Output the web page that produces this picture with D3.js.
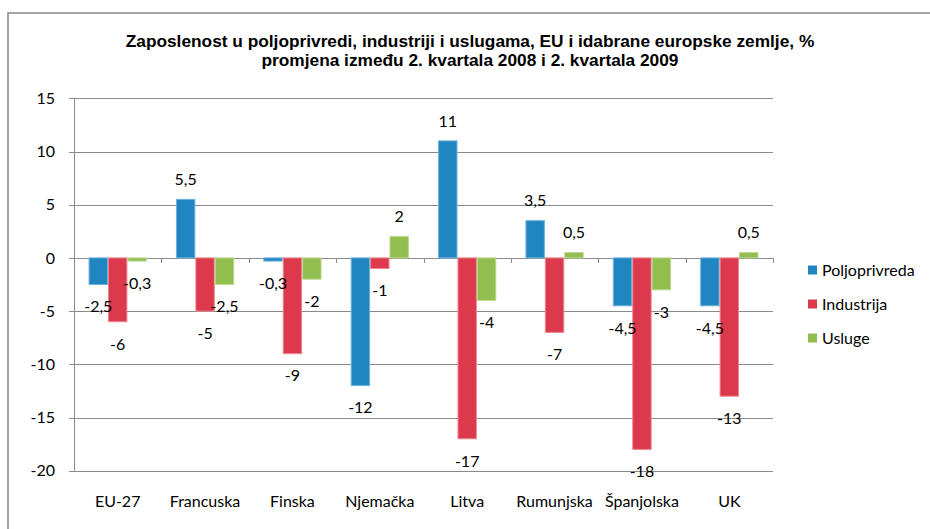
<!DOCTYPE html>
<html>
<head>
<meta charset="utf-8">
<script src="https://cdn.jsdelivr.net/npm/d3@7"></script>
<style>
  body { margin: 0; background: #fff; }
  svg { display: block; }
  .lbl { font-family: Lato, "Open Sans", sans-serif; font-size: 16px; fill: #000; }
  .title { font-family: "Liberation Sans", Arial, sans-serif; font-weight: bold; font-size: 17.3px; fill: #000; }
</style>
</head>
<body>
<svg id="chart" width="930" height="529"></svg>
<script>
// data
const categories = ['EU-27', 'Francuska', 'Finska', 'Njemačka', 'Litva', 'Rumunjska', 'Španjolska', 'UK']
const seriesNames = ['Poljoprivreda', 'Industrija', 'Usluge']
const poljoprivreda = [-2.5, 5.5, -0.3, -12, 11, 3.5, -4.5, -4.5]
const industrija = [-6, -5, -9, -1, -17, -7, -18, -13]
const usluge = [-0.3, -2.5, -2, 2, -4, 0.5, -3, 0.5]
const yTicks = [15, 10, 5, 0, -5, -10, -15, -20]
const colors = ['#1f86c1', '#dc3a4c', '#92be50']
const strokes = ['#6fb1dc', '#ec8792', '#bcd88e']
const titleLines = [
	'Zaposlenost u poljoprivredi, industriji i uslugama, EU i idabrane europske zemlje, %',
	'promjena između 2. kvartala 2008 i 2. kvartala 2009'
]

const values = [poljoprivreda, industrija, usluge]
const fmt = (v) => String(v).replace('.', ',')

const svg = d3.select('#chart')

// outer frame
svg.append('rect')
	.attr('x', 8).attr('y', 13)
	.attr('width', 940).attr('height', 540)
	.attr('fill', 'none')
	.attr('stroke', '#888')
	.attr('stroke-width', 1.5)

// title
svg.append('text')
	.attr('class', 'title')
	.attr('text-anchor', 'middle')
	.selectAll('tspan')
	.data(titleLines)
	.enter()
	.append('tspan')
	.attr('x', 470)
	.attr('y', (d, i) => 47 + i * 19)
	.text((d) => d)

// scales
const left = 74, right = 773
const x0 = d3.scaleBand().domain(categories).range([left, right]).padding(0)
const gap = x0.bandwidth() * 1.5 / 4.5
const x1 = d3.scaleBand().domain(seriesNames).range([gap / 2, x0.bandwidth() - gap / 2]).padding(0)
const y = d3.scaleLinear().domain([-20, 15]).range([470.7, 98.3])

// gridlines
const g = svg.append('g')
g.append('g')
	.selectAll('line')
	.data(yTicks)
	.enter()
	.append('line')
	.attr('x1', left - 5)
	.attr('x2', right)
	.attr('y1', (d) => Math.round(y(d)) + 0.5)
	.attr('y2', (d) => Math.round(y(d)) + 0.5)
	.attr('stroke', '#8a8a8a')
	.attr('stroke-width', 1)

// y axis line
g.append('line')
	.attr('x1', left + 0.5).attr('x2', left + 0.5)
	.attr('y1', y(15)).attr('y2', y(-20))
	.attr('stroke', '#8a8a8a')

// y tick labels
g.append('g')
	.selectAll('text')
	.data(yTicks)
	.enter()
	.append('text')
	.attr('class', 'lbl')
	.attr('x', 55)
	.attr('y', (d) => y(d))
	.attr('dy', '0.36em')
	.attr('text-anchor', 'end')
	.text((d) => d)

// bars
const groups = g.append('g')
	.selectAll('g')
	.data(categories)
	.enter()
	.append('g')
	.attr('transform', (d) => `translate(${x0(d)},0)`)

groups.selectAll('rect')
	.data((d, ci) => seriesNames.map((s, si) => ({ s, si, v: values[si][ci] })))
	.enter()
	.append('rect')
	.attr('x', (d) => x1(d.s) + 0.5)
	.attr('width', x1.bandwidth() - 1)
	.attr('y', (d) => Math.min(y(d.v), y(0)))
	.attr('height', (d) => Math.abs(y(d.v) - y(0)))
	.attr('fill', (d) => colors[d.si])
	.attr('stroke', (d) => strokes[d.si])
	.attr('stroke-width', 1)

// category axis ticks at zero line
g.append('g')
	.selectAll('line')
	.data(d3.range(categories.length + 1))
	.enter()
	.append('line')
	.attr('x1', (i) => Math.round(left + i * x0.bandwidth()) + 0.5)
	.attr('x2', (i) => Math.round(left + i * x0.bandwidth()) + 0.5)
	.attr('y1', Math.round(y(0)))
	.attr('y2', Math.round(y(0)) + 5)
	.attr('stroke', '#8a8a8a')

// data labels
groups.selectAll('text')
	.data((d, ci) => seriesNames.map((s, si) => ({ s, si, v: values[si][ci] })))
	.enter()
	.append('text')
	.attr('class', 'lbl')
	.attr('text-anchor', 'middle')
	.attr('x', (d) => x1(d.s) + x1.bandwidth() / 2)
	.attr('y', (d) => d.v >= 0 ? y(d.v) - 20 : y(d.v) + 22)
	.attr('dy', '0.36em')
	.text((d) => fmt(d.v))

// category labels
g.append('g')
	.selectAll('text')
	.data(categories)
	.enter()
	.append('text')
	.attr('class', 'lbl')
	.attr('text-anchor', 'middle')
	.attr('x', (d) => x0(d) + x0.bandwidth() / 2)
	.attr('y', 501)
	.attr('dy', '0.36em')
	.text((d) => d)

// legend
const legend = svg.append('g')
	.selectAll('g')
	.data(seriesNames)
	.enter()
	.append('g')
	.attr('transform', (d, i) => `translate(808,${270 + i * 34})`)

legend.append('rect')
	.attr('x', 0).attr('y', -4.5)
	.attr('width', 9).attr('height', 9)
	.attr('fill', (d, i) => colors[i])

legend.append('text')
	.attr('class', 'lbl')
	.attr('x', 14)
	.attr('dy', '0.36em')
	.text((d) => d)
</script>
</body>
</html>
